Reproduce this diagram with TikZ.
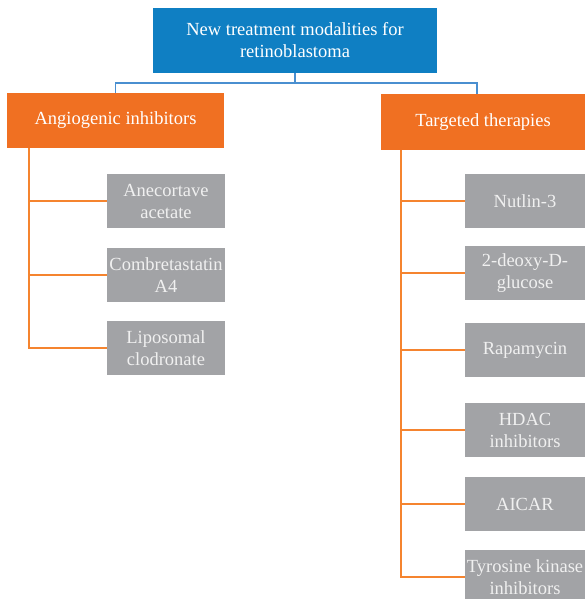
\documentclass[tikz,border=0pt]{standalone}
\usepackage{fontspec}
\setmainfont{Liberation Serif}
\definecolor{rootblue}{HTML}{0F7FC3}
\definecolor{catorange}{HTML}{F07022}
\definecolor{itemgray}{HTML}{A2A3A6}
\definecolor{lineorange}{HTML}{F5842F}
\definecolor{lineblue}{HTML}{4A8FD0}

\begin{document}
\begin{tikzpicture}[x=1pt, y=-1pt,
    rootbox/.style={rectangle, fill=rootblue, text=white, minimum width=284pt, minimum height=65pt, align=center, inner sep=0pt, font=\fontsize{18.5}{22}\selectfont},
    catbox/.style={rectangle, fill=catorange, text=white, minimum height=55pt, align=center, inner sep=0pt, font=\fontsize{18.5}{22}\selectfont},
    itembox/.style={rectangle, fill=itemgray, text=white!94!black, minimum height=54pt, align=center, inner sep=0pt, font=\fontsize{18.5}{22}\selectfont},
    bluelink/.style={draw=lineblue, line width=1.5pt},
    branch/.style={draw=lineorange, line width=1.5pt}]
    \useasboundingbox (0,0) rectangle (585,599);
    %\draw[help lines] (0,0) grid[step=50] (585,599);
    \node[rootbox] (root) at (295,40.5) {New treatment modalities for\\retinoblastoma};
    \node[catbox, minimum width=217pt] (ang) at (115.5,120.5) {Angiogenic inhibitors};
    \node[catbox, minimum width=204pt] (tar) at (483,122) {Targeted therapies};
    \draw[bluelink] (root.south) -- ++(0,10) -| (ang.north);
    \draw[bluelink] (root.south) -- ++(0,10) -| ([xshift=-6pt]tar.north);
    % left column
    \node[itembox, minimum width=118pt] (ane) at (166,201) {Anecortave\\acetate};
    \node[itembox, minimum width=118pt] (com) at (166,275) {Combretastatin\\A4};
    \node[itembox, minimum width=118pt] (lip) at (166,348) {Liposomal\\clodronate};
    % right column
    \node[itembox, minimum width=120pt] (nut) at (525,201) {Nutlin-3};
    \node[itembox, minimum width=120pt] (deo) at (525,273) {2-deoxy-D-\\glucose};
    \node[itembox, minimum width=120pt] (rap) at (525,350) {Rapamycin};
    \node[itembox, minimum width=120pt] (hda) at (525,430) {HDAC\\inhibitors};
    \node[itembox, minimum width=120pt] (aic) at (525,504) {AICAR};
    \node[itembox, minimum width=120pt] (tyr) at (525,577) {Tyrosine kinase\\inhibitors};
    \coordinate (angtrunk) at (29,0);
    \coordinate (tartrunk) at (401,0);
    \foreach \n in {ane,com,lip}
        \draw[branch] (ang.south -| angtrunk) |- (\n.west);
    \foreach \n in {nut,deo,rap,hda,aic,tyr}
        \draw[branch] (tar.south -| tartrunk) |- (\n.west);
\end{tikzpicture}
\end{document}
